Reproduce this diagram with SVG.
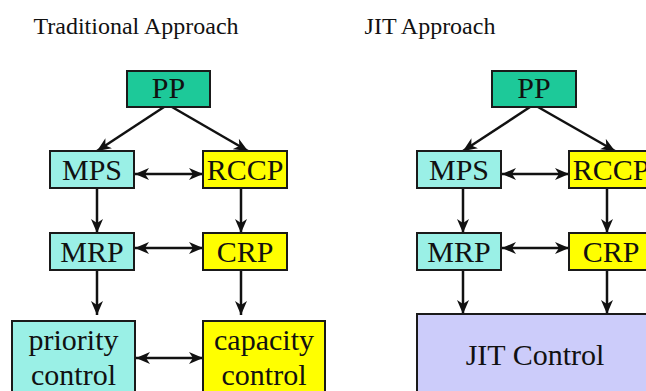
<svg xmlns="http://www.w3.org/2000/svg" width="646" height="391" viewBox="0 0 646 391">
<style>
  .title{font-family:"Liberation Serif","Times New Roman",serif;font-size:24px;fill:#111;text-anchor:middle}
  .lbl{font-family:"Liberation Serif","Times New Roman",serif;font-size:30px;fill:#111;text-anchor:middle}
  .box{stroke:#1a1a1a;stroke-width:2}
  .pp{fill:#1dc999}
  .cy{fill:#9af0e6}
  .yl{fill:#ffff00}
  .jit{fill:#ccccfa}
  .ar{stroke:#111;stroke-width:2.5;fill:none;marker-end:url(#ah)}
  .dar{stroke:#111;stroke-width:2.5;fill:none;marker-end:url(#ah);marker-start:url(#ah)}
</style>
<defs>
  <marker id="ah" markerUnits="userSpaceOnUse" markerWidth="14" markerHeight="12" refX="14" refY="6" orient="auto-start-reverse" viewBox="0 0 14 12">
    <path d="M0,0 L14,6 L0,12 L4,6 z" fill="#111"/>
  </marker>
</defs>
<rect width="646" height="391" fill="#ffffff"/>
<text class="title" x="136" y="34">Traditional Approach</text>
<text class="title" x="430" y="34">JIT Approach</text>

<g id="connectors">
  <line class="ar" x1="164" y1="107" x2="97" y2="151"/>
  <line class="ar" x1="172" y1="107" x2="248" y2="151"/>
  <line class="dar" x1="135" y1="174" x2="203" y2="174"/>
  <line class="ar" x1="97" y1="188" x2="97" y2="233"/>
  <line class="ar" x1="241" y1="188" x2="241" y2="233"/>
  <line class="dar" x1="135" y1="248" x2="203" y2="248"/>
  <line class="ar" x1="97" y1="270" x2="97" y2="315"/>
  <line class="ar" x1="241" y1="270" x2="241" y2="315"/>
  <line class="dar" x1="136" y1="358" x2="203" y2="358"/>

  <line class="ar" x1="530" y1="107" x2="463" y2="151"/>
  <line class="ar" x1="538" y1="107" x2="615" y2="151"/>
  <line class="dar" x1="502" y1="174" x2="569" y2="174"/>
  <line class="ar" x1="463" y1="188" x2="463" y2="233"/>
  <line class="ar" x1="607" y1="188" x2="607" y2="233"/>
  <line class="dar" x1="502" y1="248" x2="569" y2="248"/>
  <line class="ar" x1="463" y1="270" x2="463" y2="314"/>
  <line class="ar" x1="607" y1="270" x2="607" y2="314"/>
</g>

<g id="t-pp"><rect class="box pp" x="127" y="71" width="83" height="36"/><text class="lbl" x="168.5" y="98">PP</text></g>
<g id="t-mps"><rect class="box cy" x="50" y="151" width="84" height="37"/><text class="lbl" x="92" y="180">MPS</text></g>
<g id="t-rccp"><rect class="box yl" x="203" y="151" width="84" height="37"/><text class="lbl" x="245" y="180">RCCP</text></g>
<g id="t-mrp"><rect class="box cy" x="50" y="233" width="84" height="37"/><text class="lbl" x="92" y="262">MRP</text></g>
<g id="t-crp"><rect class="box yl" x="203" y="233" width="84" height="37"/><text class="lbl" x="245" y="262">CRP</text></g>
<g id="t-priority"><rect class="box cy" x="12" y="321" width="123" height="90"/><text class="lbl" x="73.5" y="350">priority</text><text class="lbl" x="73.5" y="385">control</text></g>
<g id="t-capacity"><rect class="box yl" x="203" y="321" width="122" height="90"/><text class="lbl" x="264" y="350">capacity</text><text class="lbl" x="264" y="385">control</text></g>

<g id="j-pp"><rect class="box pp" x="492" y="71" width="84" height="36"/><text class="lbl" x="534" y="98">PP</text></g>
<g id="j-mps"><rect class="box cy" x="417" y="151" width="84" height="37"/><text class="lbl" x="459" y="180">MPS</text></g>
<g id="j-rccp"><rect class="box yl" x="569" y="151" width="84" height="37"/><text class="lbl" x="611" y="180">RCCP</text></g>
<g id="j-mrp"><rect class="box cy" x="417" y="233" width="84" height="37"/><text class="lbl" x="459" y="262">MRP</text></g>
<g id="j-crp"><rect class="box yl" x="569" y="233" width="84" height="37"/><text class="lbl" x="611" y="262">CRP</text></g>
<g id="j-jit"><rect class="box jit" x="417" y="314" width="240" height="100"/><text class="lbl" x="535" y="365">JIT Control</text></g>
</svg>
